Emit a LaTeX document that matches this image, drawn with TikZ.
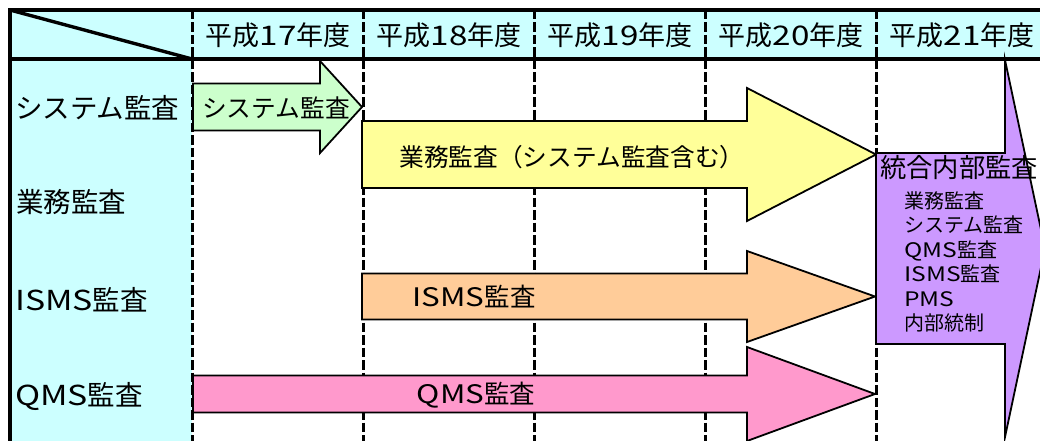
\documentclass[tikz,border=0pt]{standalone}
\usepackage{fontspec}
\setmainfont{Noto Sans CJK JP}
\newfontfamily\widefont[FakeStretch=1.23]{Noto Sans CJK JP}
\newcommand\W[1]{{\widefont #1}}
\definecolor{hdr}{HTML}{CCFFFF}
\definecolor{grn}{HTML}{CCFFCC}
\definecolor{yel}{HTML}{FFFF99}
\definecolor{org}{HTML}{FFCC99}
\definecolor{pnk}{HTML}{FF99CC}
\definecolor{ppl}{HTML}{CC99FF}
\tikzset{
  solidline/.style={line width=3.4pt, black},
  gridline/.style={line width=3pt, black, dash pattern=on 9.5pt off 3pt},
  blk/.style={draw=black, line width=1.8pt, line join=miter},
  hdrtxt/.style={font=\fontsize{27}{30}\selectfont, inner sep=0pt, anchor=center},
  rowtxt/.style={font=\fontsize{27.5}{30}\selectfont, inner sep=0pt, anchor=west},
  arrtxt/.style={font=\fontsize{24.7}{28}\selectfont, inner sep=0pt, anchor=center},
  subtxt/.style={font=\fontsize{20}{24.5}\selectfont, inner sep=0pt, anchor=north west, align=left},
}
% #1 x start, #2 head base x, #3 tip x, #4 centre y, #5 shaft half height, #6 head half height, #7 fill
\newcommand\blkarrow[7]{%
  \filldraw[blk, fill=#7] (#1,{#4-#5}) -- (#2,{#4-#5}) -- (#2,{#4-#6}) -- (#3,#4)
    -- (#2,{#4+#6}) -- (#2,{#4+#5}) -- (#1,{#4+#5}) -- cycle;}
\begin{document}
\begin{tikzpicture}[x=1pt,y=-1pt]
\useasboundingbox (0,0) rectangle (1040,441);
\clip (0,0) rectangle (1040,441);
% fills
\fill[hdr] (10,10) rectangle (1045,59);
\fill[hdr] (10,59) rectangle (192,445);
% grid
\foreach \gx in {192,363,534,705,876}
  \draw[gridline] (\gx,10) -- (\gx,445);
\draw[solidline] (10,10) -- (1045,10);
\draw[solidline] (10,59) -- (1045,59);
\draw[solidline] (10,8.3) -- (10,445);
\draw[solidline] (10,10) -- (192,59);
% header texts
\node[hdrtxt] (h17) at (278,35) {平成\W{17}年度};
\node[hdrtxt] (h18) at (449,35) {平成\W{18}年度};
\node[hdrtxt] (h19) at (620,35) {平成\W{19}年度};
\node[hdrtxt] (h20) at (791,35) {平成\W{20}年度};
\node[hdrtxt] (h21) at (962,35) {平成\W{21}年度};
% row labels
\node[rowtxt] (rsys) at (15,108) {システム監査};
\node[rowtxt] (rgyo) at (16,202) {業務監査};
\node[rowtxt] (risms) at (15,300) {\W{ISMS}監査};
\node[rowtxt] (rqms) at (15,396.5) {\W{QMS}監査};
% arrows
\blkarrow{193}{320}{362}{107}{23.5}{46}{grn}
\blkarrow{362}{747}{876}{154.5}{33.5}{66.5}{yel}
\blkarrow{362}{747}{875}{296.5}{23}{45.5}{org}
\blkarrow{193}{747}{875}{394}{18.5}{47}{pnk}
\blkarrow{876}{1005}{1045}{248.5}{95.5}{188.5}{ppl}
% arrow labels
\node[arrtxt] (asys) at (276,107.5) {システム監査};
\node[arrtxt] (agyo) at (572,157) {業務監査（システム監査含む）};
\node[arrtxt, font=\fontsize{25.5}{28}\selectfont] (aisms) at (474,297) {\W{ISMS}監査};
\node[arrtxt, font=\fontsize{25.5}{28}\selectfont] (aqms) at (476,395) {\W{QMS}監査};
\node[font=\fontsize{26.3}{30}\selectfont, inner sep=0pt, anchor=west] (tog) at (880,168) {統合内部監査};
\node[subtxt] (items) at (904,191) {業務監査\\システム監査\\\W{QMS}監査\\\W{ISMS}監査\\\W{PMS}\\内部統制};
\end{tikzpicture}
\end{document}
